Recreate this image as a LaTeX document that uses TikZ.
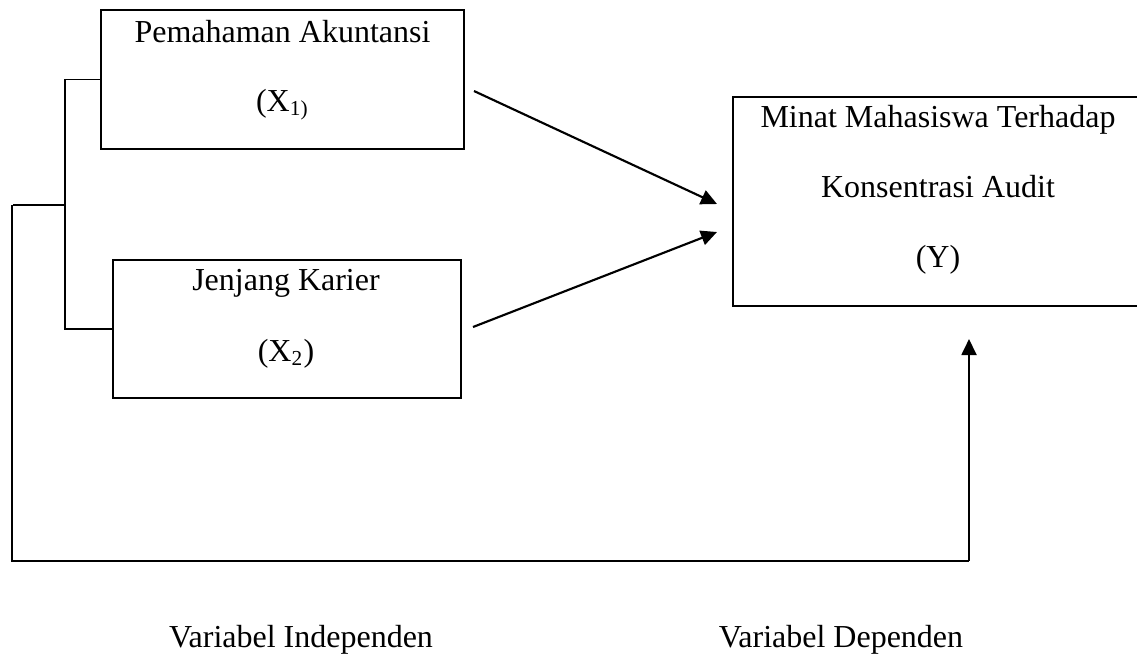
\documentclass[tikz,border=0pt]{standalone}
\usepackage{fontspec}
\setmainfont{Liberation Serif}
\usetikzlibrary{arrows.meta}
\begin{document}
\begin{tikzpicture}[x=0.375pt,y=-0.375pt,
  box/.style={draw,line width=0.8pt,inner sep=0pt},
  txt/.style={anchor=base,inner sep=0pt,font=\fontsize{12}{14}\selectfont},
  conn/.style={line width=0.5pt},
  arr/.style={line width=0.8pt,-{Triangle[length=6pt,width=5.6pt]}}]
\useasboundingbox (0,0) rectangle (1137,655);
% boxes
\node[box,minimum width=136.1pt,minimum height=52.1pt] (b1) at (282.5,79.5) {};
\node[box,minimum width=130.5pt,minimum height=51.8pt] (b2) at (287,329) {};
\node[box,minimum width=152.6pt,minimum height=78.4pt] (b3) at (936.5,201.5) {};
% texts
\node[txt] (t1a) at (282.5,42) {Pemahaman Akuntansi};
\node[txt] (t1b) at (282.5,111) {(X\textsubscript{1)}};
\node[txt] (t2a) at (286,290) {Jenjang Karier};
\node[txt] (t2b) at (286,361) {(X\textsubscript{2})};
\node[txt] (t3a) at (938,127) {Minat Mahasiswa Terhadap};
\node[txt] (t3b) at (938,197) {Konsentrasi Audit};
\node[txt] (t3c) at (938,267) {(Y)};
\node[txt] (l1) at (301,647) {Variabel Independen};
\node[txt] (l2) at (841,647) {Variabel Dependen};
% coordinates
\coordinate (bk) at (65,205);
\coordinate (lt) at (12,205);
\coordinate (lb) at (12,561);
\coordinate (rb) at (969,561);
\coordinate (rt) at (969,339);
\coordinate (a1s) at (474,91);
\coordinate (a1e) at (717,204);
\coordinate (a2s) at (473,327);
\coordinate (a2e) at (717,232);
% bracket
\draw[conn] (b1.west) -| (bk) |- (b2.west);
\draw[conn] (bk) -- (13,205);
\draw[conn] (lt) -- (lb) -- (rb);
\draw[arr] (rb) -- (rt);
% arrows
\draw[arr] (a1s) -- (a1e);
\draw[arr] (a2s) -- (a2e);
\end{tikzpicture}
\end{document}
